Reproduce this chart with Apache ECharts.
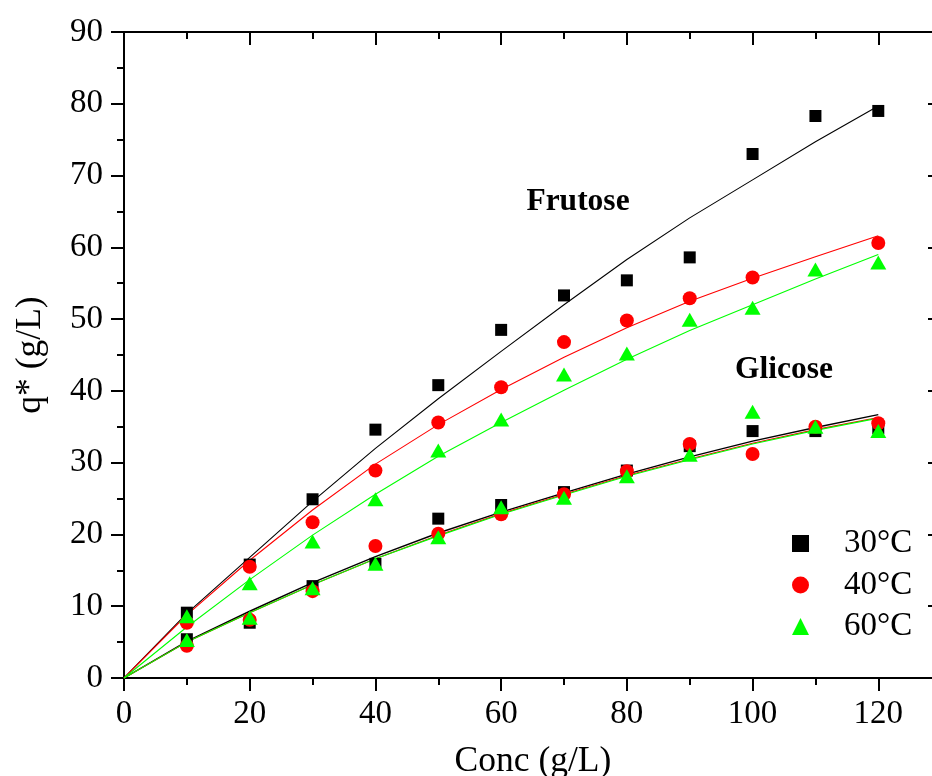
<!DOCTYPE html>
<html><head><meta charset="utf-8">
<script src="https://cdn.jsdelivr.net/npm/echarts@6/dist/echarts.min.js"></script>
<style>html,body{margin:0;padding:0;background:#fff}#c{width:932px;height:776px}</style>
</head><body><div id="c"></div>
<script>
// ---- data ----
const conc = [0, 10, 20, 30, 40, 50, 60, 70, 80, 90, 100, 110, 120];
// experimental points (null = no visible point)
const fru30 = [null, 9.1, 15.8, 24.9, 34.6, 40.8, 48.5, 53.3, 55.4, 58.6, 73.0, 78.3, 79.0];
const fru40 = [null, 7.7, 15.5, 21.7, 28.9, 35.6, 40.5, 46.8, 49.8, 52.9, 55.8, null, 60.6];
const fru60 = [null, 8.6, 13.2, 19.0, 24.9, 31.7, 36.0, 42.3, 45.2, 49.9, 51.6, 56.9, 57.9];
const gli30 = [null, 5.4, 7.7, 12.8, 15.9, 22.2, 24.1, 25.9, 28.9, 32.3, 34.4, 34.4, 34.8];
const gli40 = [null, 4.5, 8.1, 12.1, 18.4, 20.1, 22.8, 25.6, 28.8, 32.6, 31.2, 35.0, 35.5];
const gli60 = [null, 5.3, 8.4, 12.5, 15.9, 19.6, 23.8, 25.1, 28.1, 31.1, 37.1, 35.0, 34.4];
// fitted curves
const fitFru30 = [0, 9.0, 16.8, 24.6, 32.0, 38.9, 45.5, 52.0, 58.3, 64.1, 69.4, 74.7, 79.7];
const fitFru40 = [0, 8.8, 16.4, 23.4, 29.8, 35.3, 40.2, 44.7, 48.8, 52.5, 55.7, 58.7, 61.6];
const fitFru60 = [0, 7.1, 13.7, 19.9, 25.6, 30.9, 35.6, 40.1, 44.4, 48.4, 52.0, 55.6, 59.0];
const fitGli30 = [0, 5.1, 9.3, 13.3, 16.9, 20.2, 23.1, 25.8, 28.4, 30.8, 33.0, 34.9, 36.7];
const fitGli40 = [0, 5.0, 9.1, 13.0, 16.6, 19.9, 22.9, 25.6, 28.2, 30.5, 32.7, 34.6, 36.3];
const fitGli60 = [0, 5.0, 9.1, 13.0, 16.6, 19.8, 22.8, 25.5, 28.1, 30.4, 32.6, 34.5, 36.2];
const legendNames = ['30°C', '40°C', '60°C'];
const xTitle = 'Conc (g/L)';
const yTitle = 'q* (g/L)';
const labelFrutose = 'Frutose';
const labelGlicose = 'Glicose';

// ---- build ----
const FONT = 'Liberation Serif';
const pairs = (ys) => conc.map((x, i) => [x, ys[i]]).filter(p => p[1] !== null);
const colors = ['#000000', '#ff0000', '#00ff00'];
const symbols = ['rect', 'circle', 'triangle'];
const sizes = [12, 14, [16, 14]];

const axisLineStyle = { color: '#000', width: 2 };
function xAx(pos, inside, labels) {
  return {
    type: 'value', position: pos, min: 0, max: 140, interval: 20,
    axisLine: { show: true, onZero: false, lineStyle: axisLineStyle },
    axisTick: { show: true, inside: inside, length: 13, lineStyle: axisLineStyle },
    minorTick: { show: true, splitNumber: 2, length: 7, lineStyle: axisLineStyle },
    splitLine: { show: false }, minorSplitLine: { show: false },
    axisLabel: { show: labels, margin: 20, fontFamily: FONT, fontSize: 33, color: '#000', showMaxLabel: false },
    name: labels ? xTitle : '', nameLocation: 'middle', nameGap: 66,
    nameTextStyle: { fontFamily: FONT, fontSize: 35.5, color: '#000', padding: [0, 62, 0, 0] }
  };
}
function yAx(pos, inside, labels, offset) {
  return {
    type: 'value', position: pos, offset: offset, min: 0, max: 90, interval: 10,
    axisLine: { show: true, onZero: false, lineStyle: axisLineStyle },
    axisTick: { show: true, inside: inside, length: 13, lineStyle: axisLineStyle },
    minorTick: { show: true, splitNumber: 2, length: 7, lineStyle: axisLineStyle },
    splitLine: { show: false }, minorSplitLine: { show: false },
    axisLabel: { show: labels, margin: 21, fontFamily: FONT, fontSize: 33, color: '#000' },
    name: labels ? yTitle : '', nameLocation: 'middle', nameGap: 75, nameRotate: 90,
    nameTextStyle: { fontFamily: FONT, fontSize: 35.5, color: '#000' }
  };
}

const fits = [[fitFru30, fitGli30], [fitFru40, fitGli40], [fitFru60, fitGli60]];
const pts = [[fru30, gli30], [fru40, gli40], [fru60, gli60]];
const series = [];
fits.forEach((pair, k) => {
  pair.forEach((ys, j) => {
    series.push({
      type: 'line', name: 'fit' + k + '_' + j, data: pairs(ys), showSymbol: false,
      symbol: 'none', z: 1, silent: true, clip: false,
      lineStyle: { color: colors[k], width: j === 1 && k === 0 ? 1.4 : 1.1 }
    });
  });
});
pts.forEach((pair, k) => {
  pair.forEach((ys) => {
    series.push({
      type: 'scatter', name: legendNames[k], data: pairs(ys), symbol: symbols[k],
      symbolSize: sizes[k], z: 3, clip: false, itemStyle: { color: colors[k], opacity: 1 }
    });
  });
});

const chart = echarts.init(document.getElementById('c'), null, { renderer: 'canvas' });
chart.setOption({
  animation: false,
  backgroundColor: '#fff',
  grid: { left: 124, top: 32, width: 880, bottom: 98, containLabel: false, outerBoundsMode: 'none' },
  xAxis: [xAx('bottom', false, true), xAx('top', true, false)],
  yAxis: [yAx('left', false, true, 0), yAx('right', true, false, -63)],
  legend: {
    orient: 'vertical', left: 787, top: 522, itemWidth: 17, itemHeight: 17, itemGap: 8.5,
    selectedMode: false,
    data: legendNames.map((n, k) => ({ name: n, icon: symbols[k] })),
    textStyle: { fontFamily: FONT, fontSize: 33, color: '#000', lineHeight: 33, padding: [0, 0, 0, 30] }
  },
  graphic: [
    { type: 'text', x: 578, y: 202, style: { text: labelFrutose, fontFamily: FONT, fontWeight: 'bold', fontSize: 31.5, fill: '#000', align: 'center', verticalAlign: 'middle' } },
    { type: 'text', x: 784, y: 370, style: { text: labelGlicose, fontFamily: FONT, fontWeight: 'bold', fontSize: 31.5, fill: '#000', align: 'center', verticalAlign: 'middle' } }
  ],
  series: series
});
</script></body></html>
